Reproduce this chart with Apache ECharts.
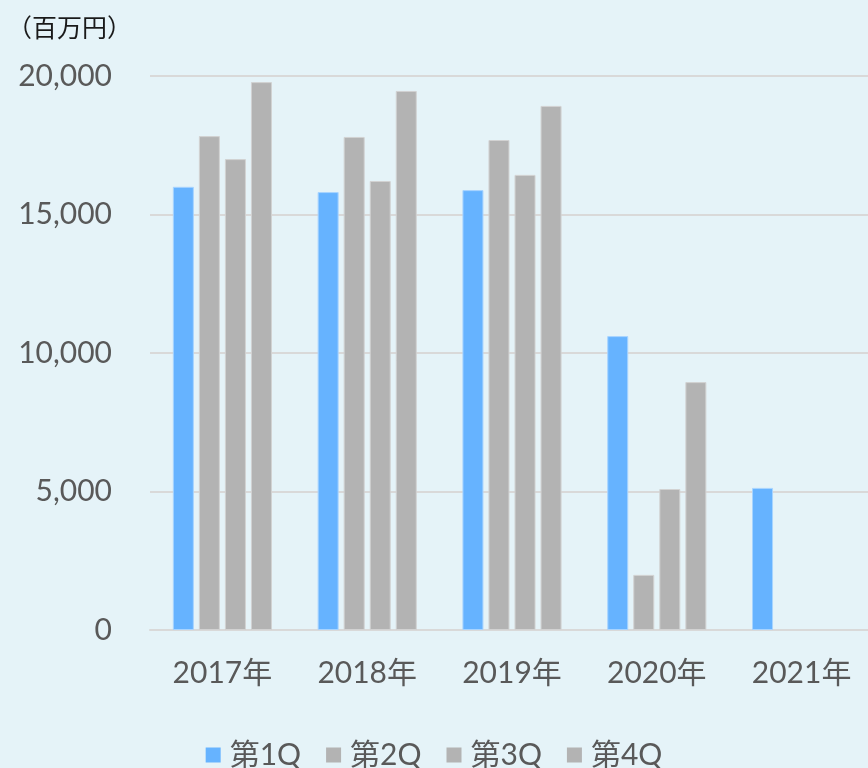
<!DOCTYPE html>
<html><head><meta charset="utf-8">
<script src="https://cdn.jsdelivr.net/npm/echarts@6/dist/echarts.min.js"></script>
<style>html,body{margin:0;padding:0;background:#e5f3f8;}#c{width:868px;height:768px;}</style>
</head><body><div id="c"></div>
<script>
const categories = ['2017年','2018年','2019年','2020年','2021年'];
const seriesNames = ['第1Q','第2Q','第3Q','第4Q'];
const q1 = [16000, 15810, 15880, 10610, 5130];
const q2 = [17830, 17800, 17690, 1990, null];
const q3 = [17000, 16210, 16430, 5090, null];
const q4 = [19780, 19460, 18920, 8950, null];
const yTicks = {min: 0, max: 20000, interval: 5000};

const FONT = 'Lato, "Noto Sans CJK JP", sans-serif';
const blue = '#66b3ff', gray = '#b3b3b3';
const colors = [blue, gray, gray, gray];
const borders = ['#a8d4ff', '#d2d2d2', '#d2d2d2', '#d2d2d2'];
const vals = [q1, q2, q3, q4];

const chart = echarts.init(document.getElementById('c'));
chart.setOption({
  backgroundColor: '#e5f3f8',
  animation: false,
  title: {text: '（百万円）', left: 2, top: 11, textStyle: {fontFamily: FONT, fontSize: 25, fontWeight: 'normal', color: '#1a1a1a'}},
  grid: {left: 150, right: -6, top: 76, bottom: 138, containLabel: false, outerBoundsMode: 'none'},
  legend: {
    bottom: -7, left: 'center', itemWidth: 15, itemHeight: 15, itemGap: 25,
    textStyle: {fontFamily: FONT, fontSize: 30, color: '#595959', padding: [0, 0, 0, 4]},
    data: seriesNames.map((n, i) => ({name: n, icon: 'rect', itemStyle: {color: colors[i], borderWidth: 0}}))
  },
  xAxis: {
    type: 'category', data: categories,
    axisLine: {lineStyle: {color: '#d9d9d9', width: 2}},
    axisTick: {show: false},
    axisLabel: {fontFamily: FONT, fontSize: 30, color: '#595959', margin: 28}
  },
  yAxis: {
    type: 'value', min: yTicks.min, max: yTicks.max, interval: yTicks.interval,
    axisLine: {show: false}, axisTick: {show: false},
    splitLine: {lineStyle: {color: '#d9d9d9', width: 2}},
    axisLabel: {fontFamily: FONT, fontSize: 30, color: '#595959', margin: 38,
      formatter: v => v.toLocaleString('en-US')}
  },
  series: seriesNames.map((n, i) => ({
    name: n, type: 'bar', data: vals[i],
    barWidth: 21, barGap: '24%', barCategoryGap: '32%',
    itemStyle: {color: colors[i], borderColor: borders[i], borderWidth: 1}
  }))
});
</script></body></html>
